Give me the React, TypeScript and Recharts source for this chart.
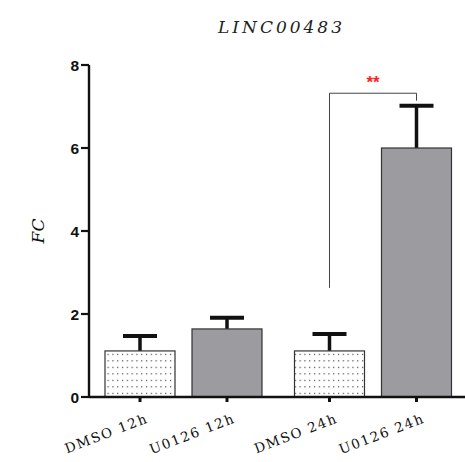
import { BarChart, Bar, XAxis, YAxis } from "recharts"

// groups on the x axis and the two treatments in each group
const timepoints = ["12h", "24h"]
const dmsoFC = [1.11, 1.11]
const dmsoSD = [0.36, 0.41]
const u0126FC = [1.64, 6.0]
const u0126SD = [0.27, 1.02]
const yTicks = [0, 2, 4, 6, 8]

// significance bracket between DMSO 24h and U0126 24h
const sigTime = "24h"
const sigLabel = "**"
const sigLeftFrom = 2.63
const sigTop = 7.32
const sigRightTo = 7.14

const data = timepoints.map((time, i) => ({
  time,
  dmso: dmsoFC[i],
  dmsoSD: dmsoSD[i],
  u0126: u0126FC[i],
  u0126SD: u0126SD[i],
}))

const BAR_SIZE = 70
const BAR_GAP = 17
const INK = "#111"
const labelFont = "'DejaVu Serif', serif"

function makeShape(name: string, valueKey: string, sdKey: string, fill: string, dotted: boolean) {
  return (props: any) => {
    const { x, y, width, height, payload } = props
    const value = payload[valueKey]
    const perUnit = height / value
    const base = y + height
    const cx = x + width / 2
    const yAt = (v: number) => base - v * perUnit
    const errTop = yAt(value + payload[sdKey])
    const lx = cx + 9
    const ly = base + 25
    const showSig = !dotted && payload.time === sigTime
    const leftCx = cx - width - BAR_GAP
    return (
      <g>
        {dotted && (
          <defs>
            <pattern id="dots" width="4.8" height="6.5" patternUnits="userSpaceOnUse">
              <rect width="4.8" height="6.5" fill="#fff" />
              <rect x="2" y="2.8" width="1.1" height="1.1" fill="#222" />
            </pattern>
          </defs>
        )}
        <line x1={cx} y1={y} x2={cx} y2={errTop} stroke={INK} strokeWidth={3.5} />
        <line x1={cx - 17} y1={errTop} x2={cx + 17} y2={errTop} stroke={INK} strokeWidth={4} />
        <rect x={x} y={y} width={width} height={height} fill={dotted ? "url(#dots)" : fill} stroke="#333" strokeWidth={1.2} />
        <line x1={cx} y1={base} x2={cx} y2={base + 5} stroke={INK} strokeWidth={3} />
        <text
          x={lx}
          y={ly}
          textAnchor="end"
          transform={`rotate(-21 ${lx} ${ly})`}
          fontFamily={labelFont}
          fontSize={13.5}
          letterSpacing={1.6}
          fill={INK}
        >
          {`${name} ${payload.time}`}
        </text>
        {showSig && (
          <g>
            <path
              d={`M${leftCx} ${yAt(sigLeftFrom)} V${yAt(sigTop)} H${cx} V${yAt(sigRightTo)}`}
              fill="none"
              stroke="#444"
              strokeWidth={1}
            />
            <text x={(leftCx + cx) / 2} y={yAt(sigTop) - 5} textAnchor="middle" fill="#ff1f1f" fontFamily="'Liberation Sans', Arial" fontWeight="bold" fontSize={17}>
              {sigLabel}
            </text>
          </g>
        )}
      </g>
    )
  }
}

function YTick(props: any) {
  const { x, y, payload } = props
  return (
    <text x={x} y={y} dy={5.5} textAnchor="end" fill={INK} fontSize={15.5} fontWeight="bold" fontFamily="'Liberation Sans', Arial">
      {payload.value}
    </text>
  )
}

export default function App() {
  return (
    <div style={{ position: "absolute", left: 0, top: 0, width: 465, height: 462, overflow: "hidden", background: "#fff" }}>
      <div
        style={{
          position: "absolute",
          left: 0,
          width: 465,
          top: 17,
          textAlign: "center",
          paddingLeft: 98,
          boxSizing: "border-box",
          fontFamily: labelFont,
          fontStyle: "italic",
          fontSize: 17,
          letterSpacing: 3,
          color: "#222",
        }}
      >
        LINC00483
      </div>
      <div
        style={{
          position: "absolute",
          left: 38,
          top: 231,
          transform: "translate(-50%, -50%) rotate(-90deg)",
          fontFamily: labelFont,
          fontStyle: "italic",
          fontSize: 17,
          color: INK,
        }}
      >
        FC
      </div>
      <BarChart
        width={468}
        height={462}
        data={data}
        margin={{ top: 65, right: 0, bottom: 64, left: 0 }}
        barSize={BAR_SIZE}
        barGap={BAR_GAP}
      >
        <XAxis
          dataKey="time"
          height={1}
          tick={false}
          tickLine={false}
          axisLine={{ stroke: INK, strokeWidth: 2.4 }}
        />
        <YAxis
          width={89}
          domain={[0, 8]}
          ticks={yTicks}
          tickSize={8}
          tickMargin={2}
          axisLine={{ stroke: INK, strokeWidth: 2.4 }}
          tickLine={{ stroke: INK, strokeWidth: 2.2 }}
          tick={<YTick />}
        />
        <Bar dataKey="dmso" isAnimationActive={false} shape={makeShape("DMSO", "dmso", "dmsoSD", "#fff", true)} />
        <Bar dataKey="u0126" isAnimationActive={false} shape={makeShape("U0126", "u0126", "u0126SD", "#9c9ca0", false)} />
      </BarChart>
    </div>
  )
}
